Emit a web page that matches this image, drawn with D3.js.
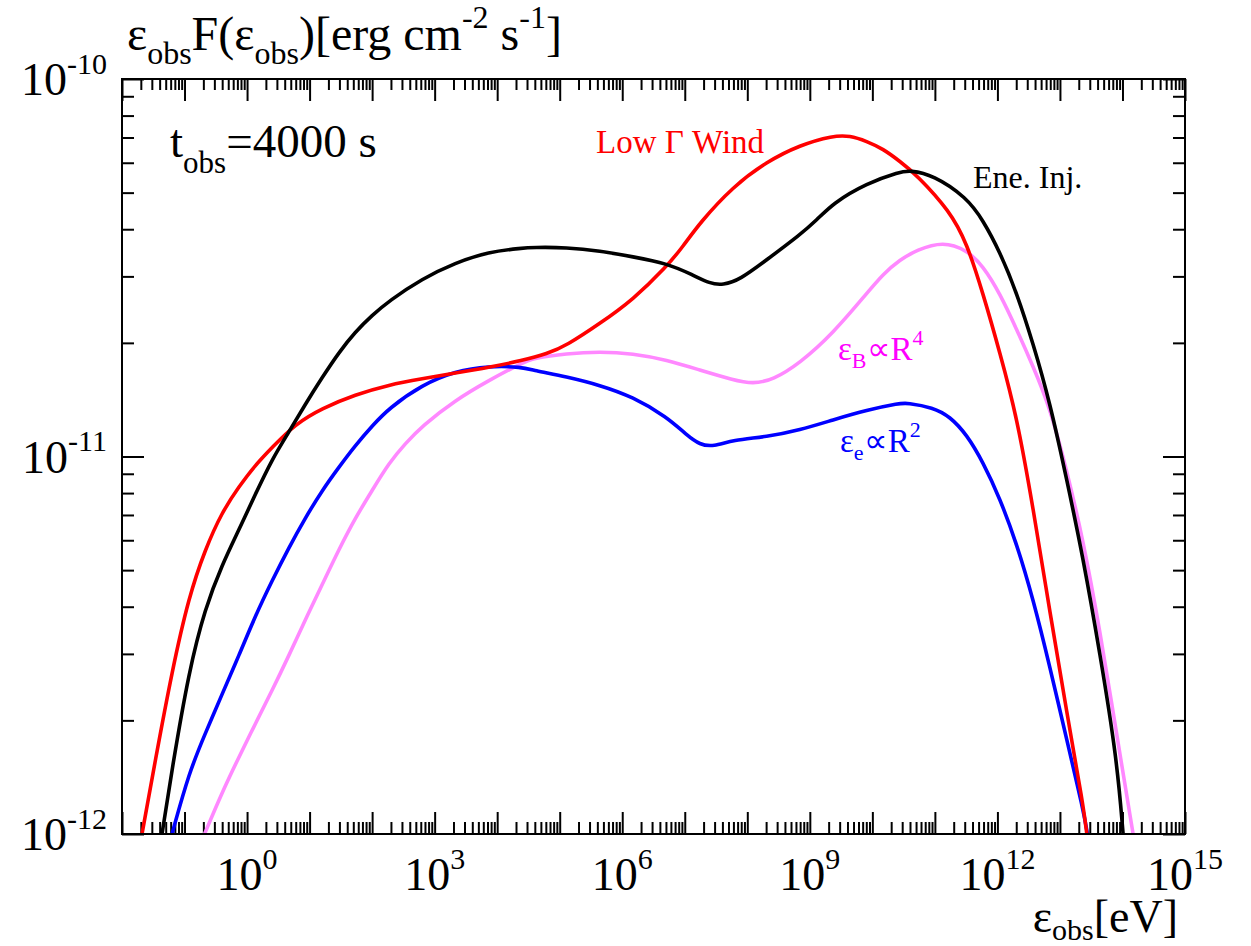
<!DOCTYPE html>
<html><head><meta charset="utf-8">
<script src="https://cdn.jsdelivr.net/npm/d3@7"></script>
<style>
body{margin:0;background:#fff;}
svg{display:block;}
text{font-family:"Liberation Serif","Times New Roman",serif;}
</style>
</head><body>
<svg id="c" width="1251" height="946"></svg>
<script>
// ---- data: each point is [log10(E_obs / eV), log10(E F(E) / erg cm^-2 s^-1)]
const xTickExponents = [0, 3, 6, 9, 12, 15];
const yTickExponents = [-12, -11, -10];

const lowGammaWind = [[-1.68,-12.00],[-1.47,-11.807],[-1.20,-11.568],[-0.93,-11.371],[-0.67,-11.246],[-0.40,-11.147],[-0.13,-11.080],[0.13,-11.023],[0.40,-10.976],[0.77,-10.914],[1.20,-10.872],[1.73,-10.836],[2.27,-10.810],[2.80,-10.794],[3.33,-10.779],[3.86,-10.764],[4.40,-10.746],[4.80,-10.728],[5.11,-10.706],[5.64,-10.648],[6.17,-10.585],[6.71,-10.497],[6.97,-10.444],[7.24,-10.381],[7.77,-10.285],[8.31,-10.219],[8.84,-10.175],[9.37,-10.150],[9.64,-10.150],[9.91,-10.165],[10.17,-10.185],[10.44,-10.218],[10.71,-10.254],[11.24,-10.350],[11.51,-10.434],[11.77,-10.568],[12.04,-10.725],[12.31,-10.894],[12.57,-11.135],[12.84,-11.413],[13.11,-11.679],[13.37,-11.921],[13.43,-12.00]];

const eneInj = [[-1.36,-12.00],[-1.20,-11.828],[-0.93,-11.568],[-0.67,-11.401],[-0.40,-11.287],[-0.13,-11.194],[0.13,-11.101],[0.40,-11.007],[0.67,-10.935],[0.93,-10.862],[1.20,-10.791],[1.47,-10.724],[1.73,-10.670],[2.00,-10.626],[2.27,-10.588],[2.80,-10.529],[3.33,-10.487],[3.86,-10.458],[4.40,-10.448],[4.57,-10.446],[5.11,-10.446],[5.64,-10.455],[6.17,-10.471],[6.71,-10.488],[7.13,-10.519],[7.40,-10.542],[7.61,-10.546],[7.88,-10.532],[8.31,-10.479],[8.84,-10.413],[9.11,-10.374],[9.37,-10.329],[9.91,-10.276],[10.44,-10.246],[10.60,-10.242],[10.97,-10.254],[11.51,-10.314],[11.77,-10.374],[12.04,-10.458],[12.31,-10.567],[12.57,-10.700],[12.84,-10.857],[13.11,-11.062],[13.37,-11.268],[13.64,-11.522],[13.91,-11.800],[14.01,-12.00]];

const epsEpropR2 = [[-1.20,-12.00],[-0.93,-11.838],[-0.67,-11.734],[-0.40,-11.630],[-0.13,-11.527],[0.13,-11.423],[0.40,-11.329],[0.67,-11.241],[0.93,-11.163],[1.20,-11.090],[1.47,-11.028],[1.73,-10.971],[2.00,-10.919],[2.27,-10.872],[2.80,-10.810],[3.33,-10.774],[3.86,-10.760],[4.40,-10.763],[4.57,-10.771],[5.11,-10.789],[5.64,-10.811],[6.17,-10.842],[6.71,-10.895],[7.03,-10.943],[7.24,-10.969],[7.46,-10.974],[7.77,-10.956],[8.31,-10.948],[8.84,-10.930],[9.37,-10.903],[9.91,-10.877],[10.44,-10.859],[10.55,-10.858],[10.97,-10.870],[11.24,-10.894],[11.51,-10.942],[11.77,-11.015],[12.04,-11.111],[12.31,-11.232],[12.57,-11.377],[12.84,-11.558],[13.11,-11.751],[13.37,-11.933],[13.44,-12.00]];

const epsBpropR4 = [[-0.68,-12.00],[-0.40,-11.890],[-0.13,-11.796],[0.13,-11.709],[0.40,-11.620],[0.67,-11.527],[0.93,-11.433],[1.20,-11.340],[1.47,-11.246],[1.73,-11.163],[2.00,-11.090],[2.27,-11.017],[2.53,-10.966],[2.80,-10.919],[3.33,-10.851],[3.86,-10.799],[4.40,-10.752],[4.57,-10.740],[5.11,-10.727],[5.64,-10.722],[6.17,-10.727],[6.71,-10.744],[7.24,-10.771],[7.77,-10.797],[8.09,-10.808],[8.41,-10.797],[8.84,-10.753],[9.37,-10.674],[9.91,-10.568],[10.17,-10.517],[10.44,-10.479],[10.71,-10.453],[11.13,-10.430],[11.51,-10.453],[11.77,-10.495],[12.04,-10.568],[12.31,-10.664],[12.57,-10.761],[12.84,-10.870],[13.11,-11.038],[13.37,-11.220],[13.64,-11.461],[13.91,-11.739],[14.17,-12.00]];

const seriesNames = ["Low Γ Wind", "Ene. Inj.", "εe∝R2", "εB∝R4"];
const seriesColors = ["#ff0000", "#000000", "#0000ff", "#ff88ff"];
const seriesData = [lowGammaWind, eneInj, epsEpropR2, epsBpropR4];

// ---- layout
const L = 122, R = 1185, T = 79, B = 834;
const svg = d3.select("#c");
const x = d3.scaleLog().domain([1e-2, 1e15]).range([L, R]);
const y = d3.scaleLog().domain([1e-12, 1e-10]).range([B, T]);

// rich text helper: parts = [[text, kind]] kind: "", "sub", "sup"
function rich(g, parts, size, opts) {
  const t = g.append("text").attr("x", opts.x).attr("y", opts.y)
    .attr("font-size", size).attr("fill", opts.fill || "#000")
    .attr("font-family", "'Liberation Serif','Times New Roman',serif")
    .attr("text-anchor", opts.anchor || "start");
  let cur = 0;
  const small = Math.round(size * 0.66);
  const subDrop = opts.subDrop != null ? opts.subDrop : 0.34;
  parts.forEach(([s, k]) => {
    let target = 0;
    if (k === "sub") target = size * subDrop;
    if (k === "sup") target = -size * 0.46;
    const ts = t.append("tspan").text(s).attr("font-size", k ? small : size);
    if (target !== cur) { ts.attr("dy", target - cur); cur = target; }
  });
  return t;
}

// minor/major tick values
const xMajor = d3.range(-2, 16).map(k => Math.pow(10, k));
const xMinor = [];
for (let k = -2; k < 15; k++) for (let m = 2; m <= 9; m++) xMinor.push(m * Math.pow(10, k));
const yMajor = yTickExponents.map(k => Math.pow(10, k));
const yMinor = [];
for (let k = -12; k < -10; k++) for (let m = 2; m <= 9; m++) yMinor.push(m * Math.pow(10, k));

const axes = svg.append("g");
function addAxis(gen, tf, vals, size) {
  const g = axes.append("g").attr("transform", tf)
    .call(gen.tickValues(vals).tickSize(size).tickFormat(""));
  g.select(".domain").remove();
  g.selectAll("line").attr("stroke", "#000").attr("stroke-width", 2);
}
addAxis(d3.axisBottom(x), `translate(0,${B})`, xMajor, -22);
addAxis(d3.axisBottom(x), `translate(0,${B})`, xMinor, -12);
addAxis(d3.axisTop(x), `translate(0,${T})`, xMajor, -22);
addAxis(d3.axisTop(x), `translate(0,${T})`, xMinor, -11);
addAxis(d3.axisLeft(y), `translate(${L},0)`, yMajor, -22);
addAxis(d3.axisLeft(y), `translate(${L},0)`, yMinor, -12);
addAxis(d3.axisRight(y), `translate(${R},0)`, yMajor, -22);
addAxis(d3.axisRight(y), `translate(${R},0)`, yMinor, -12);

// curves
svg.append("clipPath").attr("id", "clip").append("rect")
  .attr("x", L).attr("y", T).attr("width", R - L).attr("height", B - T);
const line = d3.line()
  .x(d => x(Math.pow(10, d[0])))
  .y(d => y(Math.pow(10, d[1])))
  .curve(d3.curveBasis);
const curves = svg.append("g").attr("clip-path", "url(#clip)");
[3, 2, 0, 1].forEach(i => {
  curves.append("path").attr("d", line(seriesData[i]))
    .attr("fill", "none").attr("stroke", seriesColors[i])
    .attr("stroke-width", 3.6).attr("stroke-linejoin", "round");
});

// frame
svg.append("rect").attr("x", L).attr("y", T).attr("width", R - L).attr("height", B - T)
  .attr("fill", "none").attr("stroke", "#000").attr("stroke-width", 2);

// tick labels
const lab = svg.append("g");
xTickExponents.forEach(k => {
  rich(lab, [["10", ""], [String(k), "sup"]], 46, {x: x(Math.pow(10, k)), y: 890, anchor: "middle"});
});
yTickExponents.forEach(k => {
  rich(lab, [["10", ""], [String(k), "sup"]], 46, {x: 107, y: y(Math.pow(10, k)) + 16, anchor: "end"});
});

// axis titles
rich(lab, [["ε", ""], ["obs", "sub"], ["F(ε", ""], ["obs", "sub"], [")[erg cm", ""], ["-2", "sup"], [" s", ""], ["-1", "sup"], ["]", ""]], 48, {x: 127, y: 50, subDrop: 0.3});
rich(lab, [["ε", ""], ["obs", "sub"], ["[eV]", ""]], 46, {x: 1178, y: 932, anchor: "end", subDrop: 0.18});

// annotations
rich(lab, [["t", ""], ["obs", "sub"], ["=4000 s", ""]], 47, {x: 170, y: 157});
rich(lab, [["Low Γ Wind", ""]], 33, {x: 596, y: 153, fill: "#ff0000"});
rich(lab, [["Ene. Inj.", ""]], 32, {x: 973, y: 188, fill: "#000"});
rich(lab, [["ε", ""], ["B", "sub"], ["∝R", ""], ["4", "sup"]], 33, {x: 838, y: 360, fill: "#ff00ff", subDrop: 0.25});
rich(lab, [["ε", ""], ["e", "sub"], ["∝R", ""], ["2", "sup"]], 33, {x: 840, y: 452, fill: "#0000ff", subDrop: 0.25});
</script>
</body></html>
